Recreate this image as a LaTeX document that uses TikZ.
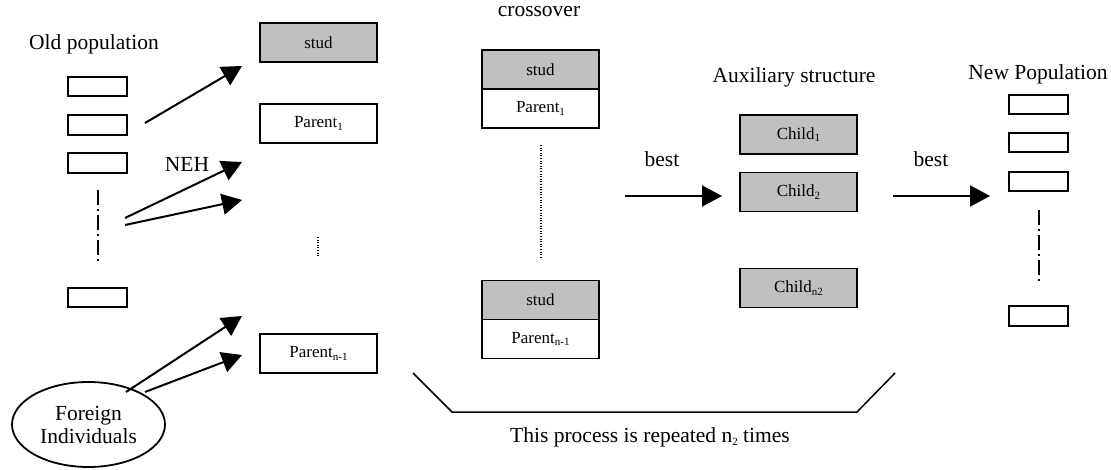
\documentclass[tikz,border=0pt]{standalone}
\usepackage{fontspec}
\setmainfont{Liberation Serif}
\usetikzlibrary{arrows.meta,shapes.geometric}
\definecolor{ink}{HTML}{000000}
\definecolor{shade}{HTML}{C0C0C0}
\newcommand{\subidx}[1]{\raisebox{-0.35ex}{\fontsize{11}{11}\selectfont #1}}
\tikzset{
  >={Triangle[length=20pt,width=21pt]},
  every picture/.style={line width=1.8pt,draw=ink},
  bx/.style={draw=ink,fill=white,minimum width=117pt,minimum height=39pt,inner sep=0pt,outer sep=0pt,font=\fontsize{17}{19}\selectfont},
  bxg/.style={bx,fill=shade},
  pop/.style={draw=ink,fill=white,minimum width=59pt,minimum height=19.5pt,inner sep=0pt},
  arr/.style={->,draw=ink,line width=2pt},
  lab/.style={font=\fontsize{21.5}{23}\selectfont,anchor=base},
  dashdot/.style={line width=1.8pt,dash pattern=on 15pt off 4pt on 2pt off 4pt},
  dots/.style={line width=1.3pt,dash pattern=on 1pt off 1.6pt},
}
\begin{document}
\begin{tikzpicture}[x=1pt,y=-1pt]
  \useasboundingbox (0,0) rectangle (1111,470);
  % old population
  \node[lab] (oldl) at (94,50) {Old population};
  \foreach \n/\y in {o1/86.5,o2/125,o3/163,o4/297.5} \node[pop] (\n) at (97.5,\y) {};
  \draw[dashdot] (98,190) -- (98,264);
  \node[ellipse,draw=ink,minimum width=153pt,minimum height=85pt,inner sep=0pt,align=center,font=\fontsize{21.5}{23}\selectfont] (fi) at (88.5,424.5) {Foreign\\Individuals};
  % parents
  \node[bxg] (st) at (318.5,42.5) {stud};
  \node[bx] (p1) at (318.5,123.5) {Parent\subidx{1}};
  \node[bx] (pn) at (318.5,353.5) {Parent\subidx{n-1}};
  \draw[dots] (318,237) -- (318,256);
  \coordinate (a1s) at (145,123); \coordinate (a1e) at (242,66);
  \coordinate (a2s) at (125,218); \coordinate (a2e) at (242,162);
  \coordinate (a3s) at (125,225); \coordinate (a3e) at (242,200);
  \coordinate (f1s) at (126,392); \coordinate (f1e) at (242,316);
  \coordinate (f2s) at (145,392); \coordinate (f2e) at (242,355);
  \foreach \a in {a1,a2,a3,f1,f2} \draw[arr] (\a s) -- (\a e);
  \node[lab] (neh) at (187,172) {NEH};
  % crossover
  \node[lab] (crl) at (539,17) {crossover};
  \node[bxg] (cs1) at (540.5,69.5) {stud};
  \node[bx,anchor=north] (cp1) at (cs1.south) {Parent\subidx{1}};
  \draw[dots] (541,145) -- (541,258);
  \node[bxg] (cs2) at (540.5,300) {stud};
  \node[bx,anchor=north] (cpn) at (cs2.south) {Parent\subidx{n-1}};
  \coordinate (b1s) at (625,196); \coordinate (b1e) at (722,196);
  \draw[arr] (b1s) -- (b1e);
  \node[lab] (bst1) at (662,167) {best};
  % auxiliary structure
  \node[lab] (auxl) at (794,83) {Auxiliary structure};
  \node[bxg] (c1) at (798.5,134.5) {Child\subidx{1}};
  \node[bxg] (c2) at (798.5,192) {Child\subidx{2}};
  \node[bxg] (cn) at (798.5,288) {Child\subidx{n2}};
  \coordinate (b2s) at (893,196); \coordinate (b2e) at (990,196);
  \draw[arr] (b2s) -- (b2e);
  \node[lab] (bst2) at (931,167) {best};
  % new population
  \node[lab] (newl) at (1038,80) {New Population};
  \foreach \n/\y in {n1/104.5,n2/142.5,n3/181.5,n4/316} \node[pop] (\n) at (1038.5,\y) {};
  \draw[dashdot] (1039,210) -- (1039,282);
  % repeat bracket
  \coordinate (k1) at (413,373); \coordinate (k2) at (452,412);
  \coordinate (k3) at (857,412); \coordinate (k4) at (895,373);
  \draw[line width=1.5pt] (k1) -- (k2) -- (k3) -- (k4);
  \node[lab] (rep) at (650,442) {This process is repeated n\subidx{2} times};
\end{tikzpicture}
\end{document}
